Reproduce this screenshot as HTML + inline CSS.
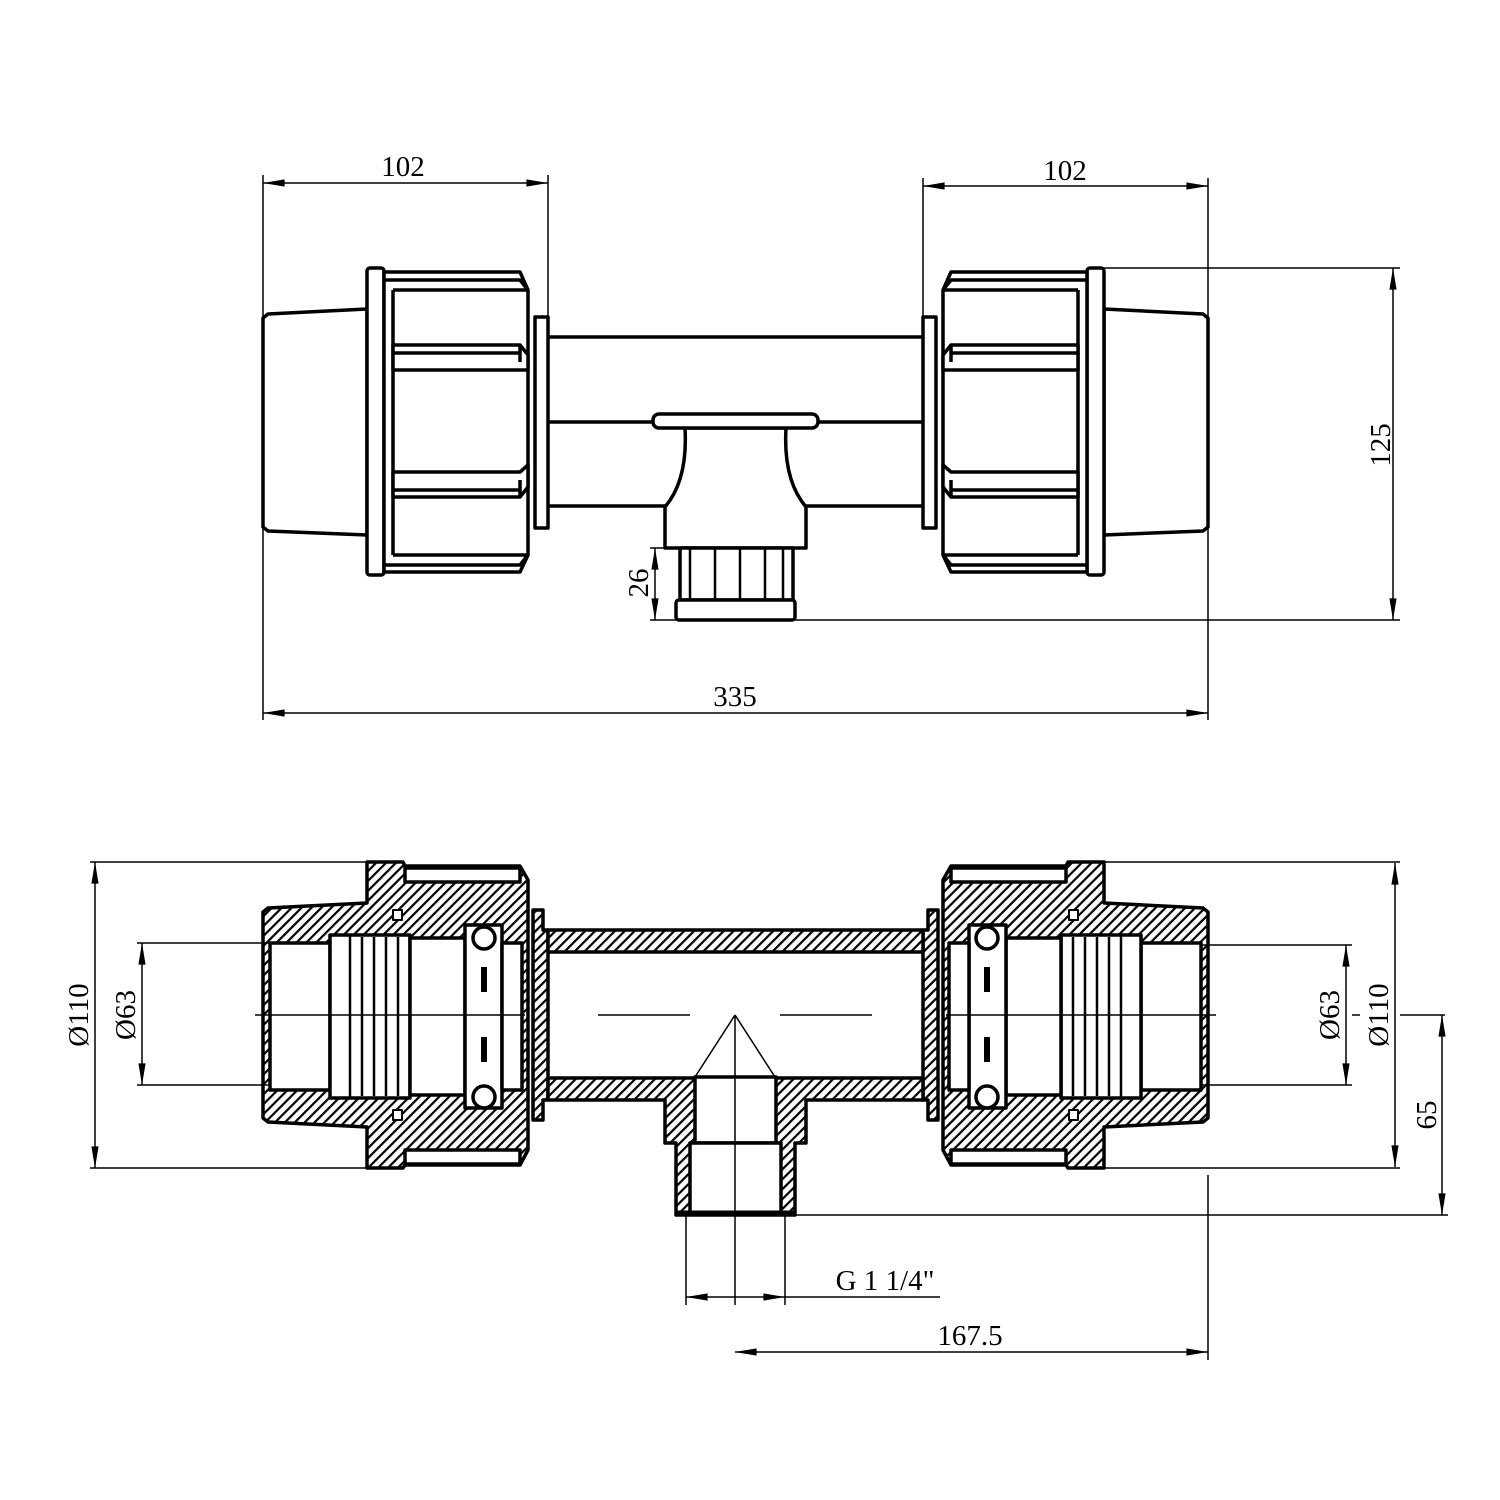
<!DOCTYPE html>
<html><head><meta charset="utf-8"><style>
html,body{margin:0;padding:0;background:#fff;}
svg{display:block}
text{font-family:"Liberation Serif",serif;font-size:29px;fill:#000}
</style></head><body>
<svg width="1500" height="1500" viewBox="0 0 1500 1500" xmlns="http://www.w3.org/2000/svg">
<defs>
<pattern id="h" width="7" height="7" patternUnits="userSpaceOnUse" patternTransform="rotate(45)">
<rect width="7" height="7" fill="#fff"/><rect width="2.2" height="7" fill="#000"/></pattern>
<pattern id="h2" width="7" height="7" patternUnits="userSpaceOnUse" patternTransform="rotate(-45)">
<rect width="7" height="7" fill="#fff"/><rect width="2.2" height="7" fill="#000"/></pattern>
<marker id="a" viewBox="0 0 24 10" refX="24" refY="5" markerWidth="24" markerHeight="9" markerUnits="userSpaceOnUse" orient="auto-start-reverse"><path d="M0,1 L24,5 L0,9 z" fill="#000"/></marker>
<g id="topL" fill="#fff" stroke="#000" stroke-width="3.5" stroke-linejoin="round">
<path d="M263,318 L268,314 L367,309 L367,535 L268,531 L263,527 Z"/>
<rect x="367" y="268" width="17" height="307" rx="3"/>
<path d="M384,272 L520,272 L528,290 L528,555 L520,572 L384,572 Z"/>
<path d="M384,280 L520,280 L528,290 M393,290 L393,555 M393,290 L528,290 M393,555 L528,555 M384,565 L520,565 L528,555" fill="none"/>
<path d="M393,345 L520,345 L528,355 L528,370 L393,370 Z M393,353 L520,353 M520,345 L520,362" />
<path d="M393,472 L520,472 L528,465 L528,487 L520,497 L393,497 Z M393,490 L520,490 M520,480 L520,497"/>
<rect x="535" y="317" width="13" height="211"/>
</g>
</defs>

<!-- TOP VIEW -->
<use href="#topL"/>
<use href="#topL" transform="translate(1471,0) scale(-1,1)"/>
<g fill="#fff" stroke="#000" stroke-width="3.5" stroke-linejoin="round">
<path d="M548,337 L923,337 M548,506 L665,506 M806,506 L923,506 M548,422 L653,422 M818,422 L923,422" fill="none"/>
<path d="M685,428 Q688,480 665,507 L665,548 L806,548 L806,507 Q783,480 786,428 Z"/>
<rect x="653" y="414" width="165" height="14" rx="6"/>
<rect x="680" y="548" width="113" height="52"/>
<path d="M690,548 L690,600 M715,548 L715,600 M740,548 L740,600 M765,548 L765,600 M783,548 L783,600" fill="none" stroke-width="2.5"/>
<rect x="676" y="600" width="119" height="20" rx="3"/>
</g>

<!-- top dims -->
<g stroke="#000" stroke-width="1.5" fill="none">
<path d="M263,175 L263,720 M548,175 L548,320 M923,178 L923,320 M1208,178 L1208,720 M1100,268 L1400,268 M795,620 L1400,620 M650,548 L680,548 M650,620 L676,620"/>
<path d="M263,183 L548,183" marker-start="url(#a)" marker-end="url(#a)"/>
<path d="M923,186 L1208,186" marker-start="url(#a)" marker-end="url(#a)"/>
<path d="M1393,268 L1393,620" marker-start="url(#a)" marker-end="url(#a)"/>
<path d="M655,548 L655,620" marker-start="url(#a)" marker-end="url(#a)"/>
<path d="M263,713 L1208,713" marker-start="url(#a)" marker-end="url(#a)"/>
</g>
<text x="403" y="176" text-anchor="middle">102</text>
<text x="1065" y="180" text-anchor="middle">102</text>
<text x="735" y="706" text-anchor="middle">335</text>
<text transform="translate(1390,445) rotate(-90)" text-anchor="middle">125</text>
<text transform="translate(648,583) rotate(-90)" text-anchor="middle">26</text>

<!-- BOTTOM VIEW left fitting -->
<g stroke="#000" stroke-width="3.5" stroke-linejoin="round">
<path d="M263,912 L268,908 L367,903 L367,862 L403,862 L405,866 L520,866 L528,880 L528,1150 L520,1165 L405,1165 L403,1168 L367,1168 L367,1127 L268,1122 L263,1118 Z" fill="url(#h)"/>
<rect x="405" y="868" width="115" height="14" fill="#fff"/>
<rect x="405" y="1150" width="115" height="14" fill="#fff"/>
<rect x="270" y="943" width="60" height="147" fill="#fff"/>
<rect x="330" y="935" width="80" height="163" fill="#fff"/>
<path d="M350,935 L350,1098 M362,937 L362,1096 M374,937 L374,1096 M386,937 L386,1096 M398,937 L398,1096" fill="none" stroke-width="2.5"/>
<rect x="410" y="938" width="55" height="157" fill="#fff"/>
<rect x="465" y="925" width="37" height="183" fill="#fff"/>
<rect x="502" y="943" width="20" height="147" fill="#fff"/>
<circle cx="484" cy="938" r="11" fill="#fff"/>
<circle cx="484" cy="1097" r="11" fill="#fff"/>
<rect x="481" y="967" width="6" height="25" fill="#000" stroke="none"/>
<rect x="481" y="1037" width="6" height="25" fill="#000" stroke="none"/>
<rect x="393" y="910" width="9" height="10" fill="#fff" stroke-width="2"/>
<rect x="393" y="1110" width="9" height="10" fill="#fff" stroke-width="2"/>
<path d="M533,910 L543,910 L543,930 L548,930 L548,1100 L543,1100 L543,1120 L533,1120 Z" fill="url(#h)"/>
</g>
<!-- right fitting (mirrored, hatch same direction) -->
<g stroke="#000" stroke-width="3.5" stroke-linejoin="round" transform="translate(1471,0) scale(-1,1)">
<path d="M263,912 L268,908 L367,903 L367,862 L403,862 L405,866 L520,866 L528,880 L528,1150 L520,1165 L405,1165 L403,1168 L367,1168 L367,1127 L268,1122 L263,1118 Z" fill="url(#h2)"/>
<rect x="405" y="868" width="115" height="14" fill="#fff"/>
<rect x="405" y="1150" width="115" height="14" fill="#fff"/>
<rect x="270" y="943" width="60" height="147" fill="#fff"/>
<rect x="330" y="935" width="80" height="163" fill="#fff"/>
<path d="M350,935 L350,1098 M362,937 L362,1096 M374,937 L374,1096 M386,937 L386,1096 M398,937 L398,1096" fill="none" stroke-width="2.5"/>
<rect x="410" y="938" width="55" height="157" fill="#fff"/>
<rect x="465" y="925" width="37" height="183" fill="#fff"/>
<rect x="502" y="943" width="20" height="147" fill="#fff"/>
<circle cx="484" cy="938" r="11" fill="#fff"/>
<circle cx="484" cy="1097" r="11" fill="#fff"/>
<rect x="481" y="967" width="6" height="25" fill="#000" stroke="none"/>
<rect x="481" y="1037" width="6" height="25" fill="#000" stroke="none"/>
<rect x="393" y="910" width="9" height="10" fill="#fff" stroke-width="2"/>
<rect x="393" y="1110" width="9" height="10" fill="#fff" stroke-width="2"/>
<path d="M533,910 L543,910 L543,930 L548,930 L548,1100 L543,1100 L543,1120 L533,1120 Z" fill="url(#h2)"/>
</g>
<g stroke="#000" stroke-width="3.5" stroke-linejoin="round">
<rect x="548" y="930" width="375" height="22" fill="url(#h)"/>
<path d="M548,1078 L923,1078 L923,1100 L806,1100 L806,1143 L795,1143 L795,1215 L676,1215 L676,1143 L665,1143 L665,1100 L548,1100 Z" fill="url(#h)"/>
<rect x="695" y="1077" width="81" height="66" fill="#fff"/>
<rect x="690" y="1143" width="91" height="70" fill="#fff"/>
<path d="M676,1213 L795,1213" stroke-width="5"/>
</g>
<g stroke="#000" stroke-width="1.5" fill="none">
<path d="M735,1015 L695,1077 M735,1015 L775,1077 M735,1015 L735,1305 M686,1215 L686,1305 M785,1215 L785,1305"/>
<path d="M255,1015 L525,1015 M598,1015 L690,1015 M780,1015 L872,1015 M946,1015 L1216,1015 M1352,1015 L1360,1015 M1400,1015 L1445,1015"/>
<path d="M90,862 L367,862 M90,1168 L367,1168 M137,943 L270,943 M137,1085 L270,1085"/>
<path d="M1104,862 L1400,862 M1104,1168 L1400,1168 M1201,945 L1352,945 M1201,1085 L1352,1085 M795,1215 L1448,1215 M1208,1175 L1208,1360"/>
<path d="M95,862 L95,1168" marker-start="url(#a)" marker-end="url(#a)"/>
<path d="M142,943 L142,1085" marker-start="url(#a)" marker-end="url(#a)"/>
<path d="M1395,863 L1395,1167" marker-start="url(#a)" marker-end="url(#a)"/>
<path d="M1346,945 L1346,1085" marker-start="url(#a)" marker-end="url(#a)"/>
<path d="M1442,1015 L1442,1215" marker-start="url(#a)" marker-end="url(#a)"/>
<path d="M686,1297 L785,1297" marker-start="url(#a)" marker-end="url(#a)"/>
<path d="M735,1352 L1208,1352" marker-start="url(#a)" marker-end="url(#a)"/>
<path d="M785,1297 L940,1297"/>
</g>
<text transform="translate(88,1015) rotate(-90)" text-anchor="middle">Ø110</text>
<text transform="translate(135,1015) rotate(-90)" text-anchor="middle">Ø63</text>
<text transform="translate(1339,1015) rotate(-90)" text-anchor="middle">Ø63</text>
<text transform="translate(1388,1015) rotate(-90)" text-anchor="middle">Ø110</text>
<text transform="translate(1436,1115) rotate(-90)" text-anchor="middle">65</text>
<text x="885" y="1290" text-anchor="middle">G 1 1/4"</text>
<text x="970" y="1345" text-anchor="middle">167.5</text>
</svg>
</body></html>
